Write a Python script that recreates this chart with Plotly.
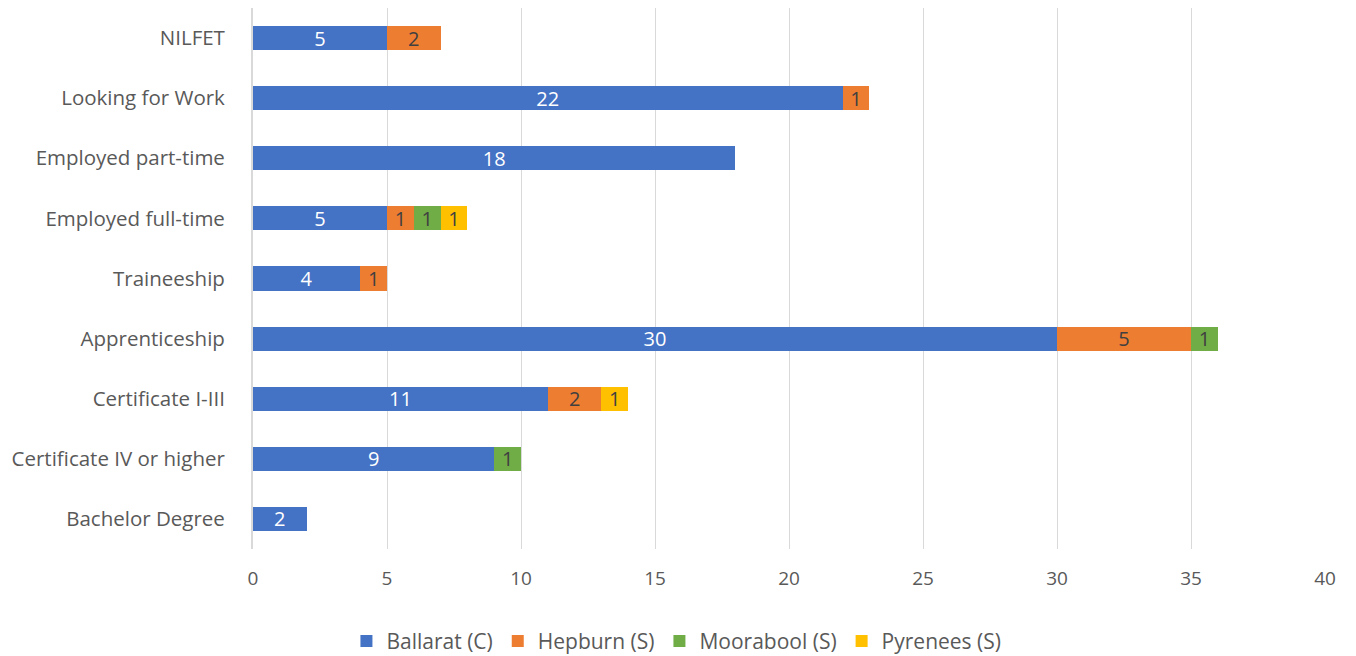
import plotly.graph_objects as go

categories = ["Bachelor Degree", "Certificate IV or higher", "Certificate I-III", "Apprenticeship",
              "Traineeship", "Employed full-time", "Employed part-time", "Looking for Work", "NILFET"]
ballarat = [2, 9, 11, 30, 4, 5, 18, 22, 5]
hepburn = [None, None, 2, 5, 1, 1, None, 1, 2]
moorabool = [None, 1, None, 1, None, 1, None, None, None]
pyrenees = [None, None, 1, None, None, 1, None, None, None]
x_ticks = [0, 5, 10, 15, 20, 25, 30, 35, 40]

series = [
    ("Ballarat (C)", ballarat, "#4472C4", "white"),
    ("Hepburn (S)", hepburn, "#ED7D31", "#404040"),
    ("Moorabool (S)", moorabool, "#70AD47", "#404040"),
    ("Pyrenees (S)", pyrenees, "#FFC000", "#404040"),
]

FONT = "Open Sans, Liberation Sans, sans-serif"

fig = go.Figure()
for name, vals, color, tcolor in series:
    fig.add_trace(go.Bar(
        y=categories, x=vals, name=name, orientation="h",
        marker=dict(color=color, line=dict(width=0)),
        text=[str(v) if v is not None else "" for v in vals],
        textposition="inside", insidetextanchor="middle", textangle=0,
        textfont=dict(color=tcolor, size=20, family=FONT),
        constraintext="none", cliponaxis=False,
    ))

fig.update_layout(
    barmode="stack", bargap=0.6,
    width=1348, height=648,
    margin=dict(l=245, r=31, t=0, b=107, autoexpand=False),
    plot_bgcolor="white", paper_bgcolor="white",
    font=dict(family=FONT, size=20, color="#595959"),
    uniformtext=dict(mode=False),
    legend=dict(orientation="h", x=0.395, xanchor="center", y=-0.133, yanchor="top",
                font=dict(size=21, color="#595959"), itemwidth=30, traceorder="normal"),
    xaxis=dict(range=[0, 40], tickvals=x_ticks, showgrid=True, gridcolor="#D9D9D9", gridwidth=1.3,
               zeroline=False, showline=False, ticks="", ticklabelstandoff=16, automargin=False,
               tickfont=dict(size=19, color="#595959")),
    yaxis=dict(categoryorder="array", categoryarray=categories, showgrid=False, automargin=False,
               showline=True, linecolor="#D9D9D9", linewidth=2, ticks="", ticklabelstandoff=22,
               tickfont=dict(size=20.5, color="#595959")),
)
fig.write_html("out.html")
